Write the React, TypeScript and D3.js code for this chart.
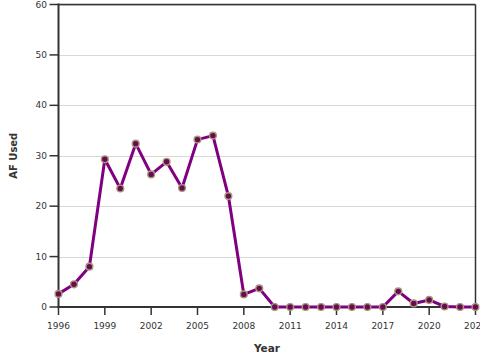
import React from "react";
import * as d3 from "d3";

const years: number[] = [1996,1997,1998,1999,2000,2001,2002,2003,2004,2005,2006,2007,2008,2009,2010,2011,2012,2013,2014,2015,2016,2017,2018,2019,2020,2021,2022,2023];
const afUsed: number[] = [2.6,4.5,8.0,29.3,23.5,32.4,26.3,28.8,23.6,33.2,34.0,22.0,2.5,3.7,0,0,0,0,0,0,0,0,3.1,0.7,1.4,0.1,0,0];
const xTicks: number[] = [1996,1999,2002,2005,2008,2011,2014,2017,2020,2023];
const yTicks: number[] = [0,10,20,30,40,50,60];

export default function App() {
  const W = 480, H = 360;
  const left = 58.5, right = 475.5, top = 4.5, bottom = 307;
  const x = d3.scaleLinear().domain([1996, 2023]).range([left, right]);
  const y = d3.scaleLinear().domain([0, 60]).range([bottom, top]);
  const line = d3.line<number>().x((_, i) => x(years[i])).y((v) => y(v));
  const font = "DejaVu Sans, sans-serif";
  return (
    <svg width={W} height={H} style={{ position: "absolute", left: 0, top: 0 }} fontFamily={font}>
      <rect x={0} y={0} width={W} height={H} fill="#fff" />
      {yTicks.filter(t => t > 0).map(t => (
        <line key={"g" + t} x1={left} x2={right} y1={Math.round(y(t)) + 0.5} y2={Math.round(y(t)) + 0.5} stroke="#d8d8d8" strokeWidth={1} />
      ))}
      <line x1={left} x2={right} y1={top} y2={top} stroke="#333" strokeWidth={1.5} />
      <line x1={right} x2={right} y1={top} y2={bottom} stroke="#333" strokeWidth={1.5} />
      {yTicks.map(t => (
        <g key={"y" + t}>
          <line x1={left - 9} x2={left} y1={y(t)} y2={y(t)} stroke="#333" strokeWidth={1.5} />
          <text x={left - 11.5} y={y(t)} dy="0.35em" textAnchor="end" fontSize={9} fill="#333">{t}</text>
        </g>
      ))}
      {xTicks.map(t => (
        <g key={"x" + t}>
          <line x1={x(t)} x2={x(t)} y1={bottom} y2={bottom + 8} stroke="#333" strokeWidth={1.5} />
          <text x={x(t)} y={bottom + 21.5} textAnchor="middle" fontSize={9} fill="#333">{t}</text>
        </g>
      ))}
      <line x1={left} x2={left} y1={top - 1} y2={bottom + 1} stroke="#333" strokeWidth={2} />
      <line x1={left - 1} x2={right} y1={bottom} y2={bottom} stroke="#333" strokeWidth={2} />
      <path d={line(afUsed) || ""} fill="none" stroke="#800080" strokeWidth={3} strokeLinejoin="round" />
      {afUsed.map((v, i) => (
        <circle key={i} cx={x(years[i])} cy={y(v)} r={3.4} fill="#6a0a55" stroke="#a89a78" strokeWidth={1.4} />
      ))}
      <text x={(left + right) / 2} y={351.5} textAnchor="middle" fontSize={10.5} fontWeight="bold" fill="#333">Year</text>
      <text transform={`translate(17,${(top + bottom) / 2}) rotate(-90)`} textAnchor="middle" fontSize={10} fontWeight="bold" fill="#333">AF Used</text>
    </svg>
  );
}
